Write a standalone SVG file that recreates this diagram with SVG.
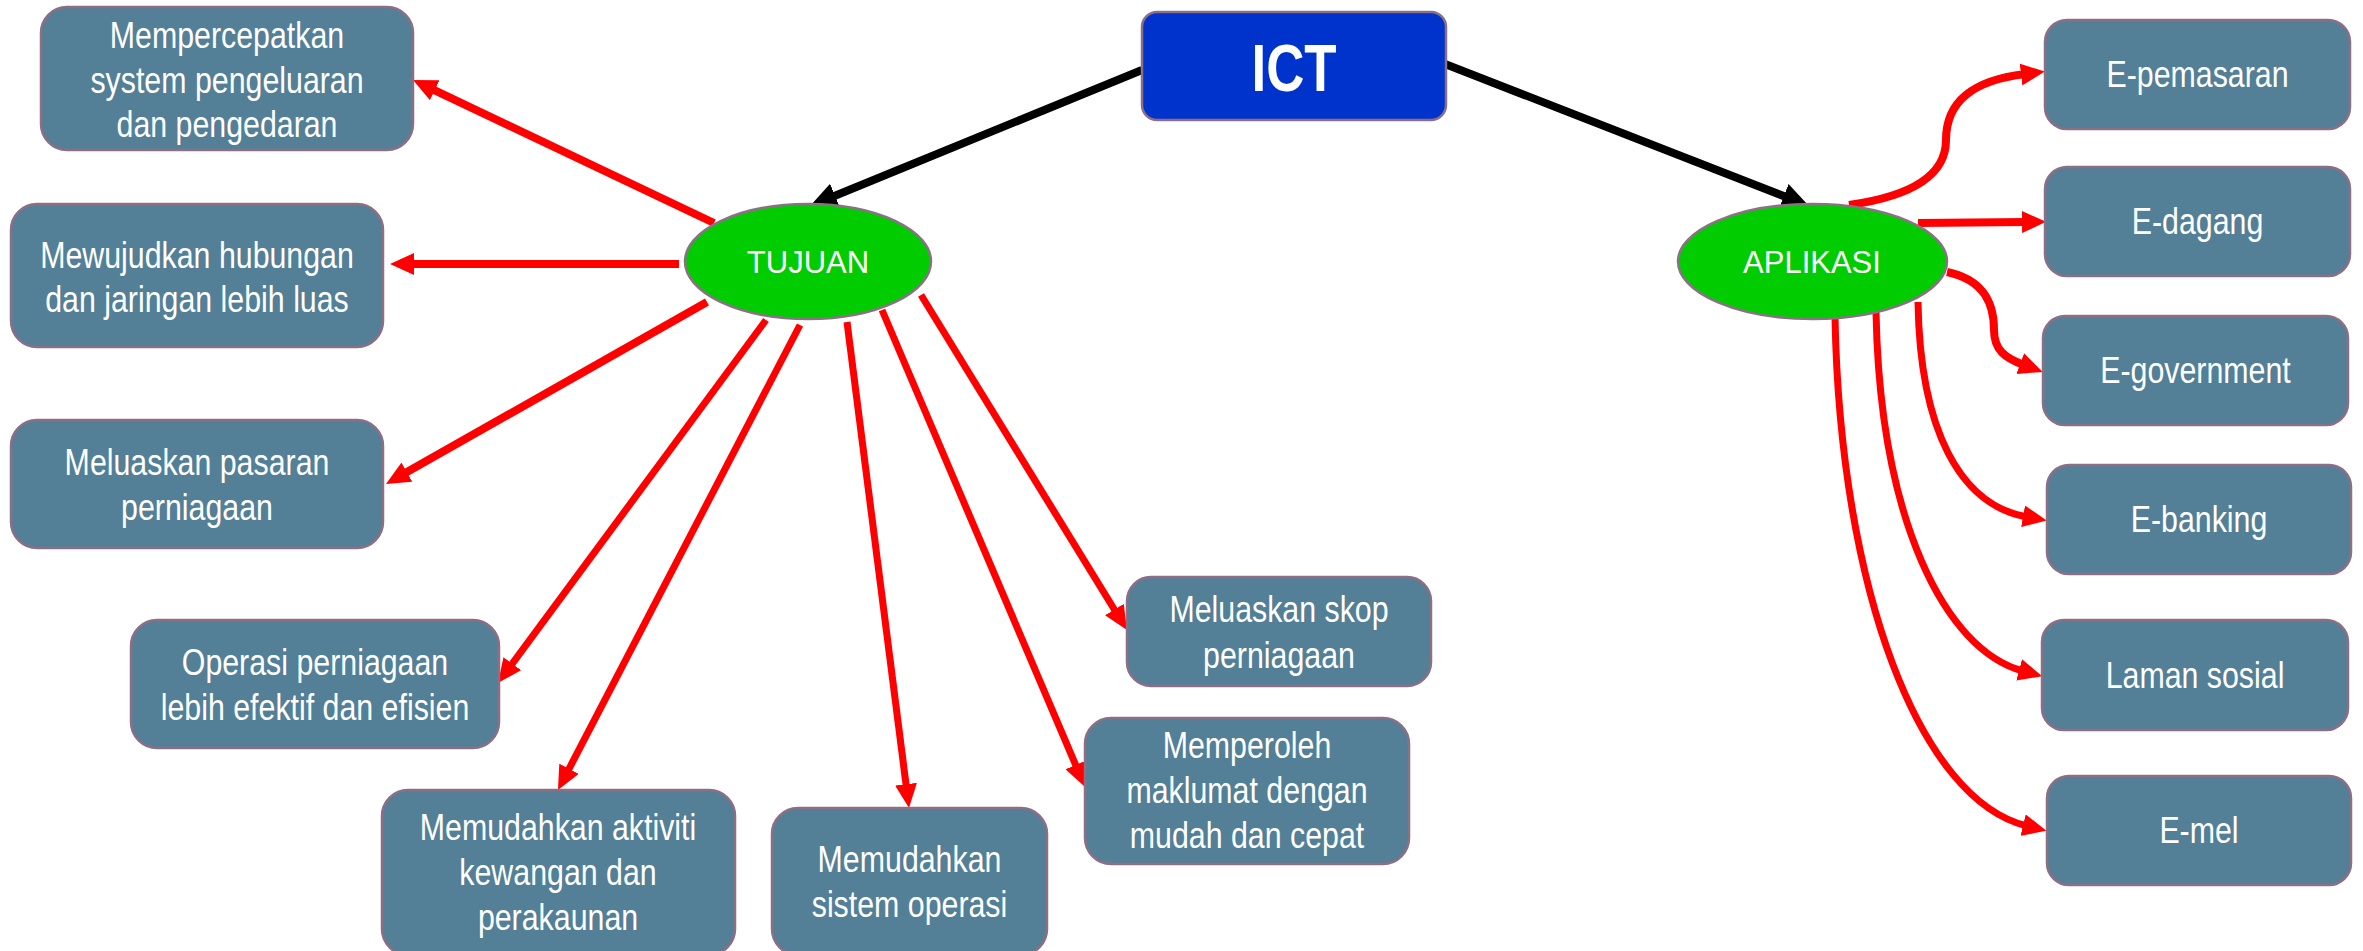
<svg xmlns="http://www.w3.org/2000/svg" width="2363" height="951" viewBox="0 0 2363 951">
<style>
.box{fill:#537F97;stroke:#8C6F85;stroke-width:2.5}
.ell{fill:#00CC00;stroke:#8C7085;stroke-width:2.5}
.t{font-family:"Liberation Sans Narrow","Arial Narrow","Liberation Sans",sans-serif;font-size:37px;fill:#FFFFFF;text-anchor:middle}
.et{font-family:"Liberation Sans",Arial,sans-serif;font-size:31px;fill:#FFFFFF;text-anchor:middle}
.ict{font-family:"Liberation Sans Narrow","Arial Narrow","Liberation Sans",sans-serif;font-size:66px;font-weight:bold;fill:#FFFFFF;text-anchor:middle}
.bk{fill:none;stroke:#000000;stroke-width:8}
.r8{fill:none;stroke:#FF0000;stroke-width:8}
.r6{fill:none;stroke:#FF0000;stroke-width:7}
</style>
<defs>
<marker id="ar" markerUnits="userSpaceOnUse" markerWidth="24" markerHeight="22" refX="4" refY="11" orient="auto" viewBox="0 0 24 22">
<path d="M0,0 L24,11 L0,22 z" fill="#FF0000"/>
</marker>
<marker id="ab" markerUnits="userSpaceOnUse" markerWidth="27" markerHeight="26" refX="6" refY="13" orient="auto" viewBox="0 0 27 26">
<path d="M0,0 L27,13 L0,26 z" fill="#000000"/>
</marker>
</defs>
<rect width="2363" height="951" fill="#FFFFFF"/>
<g id="connectors">
<path class="bk" d="M1142,70 L829.5,198" marker-end="url(#ab)"/>
<path class="bk" d="M1445,64 L1789.4,198.3" marker-end="url(#ab)"/>
<path class="r8" d="M714,223 L431.1,88.6" marker-end="url(#ar)"/>
<path class="r8" d="M679,264 L410,264" marker-end="url(#ar)"/>
<path class="r8" d="M707,302 L403.4,474.1" marker-end="url(#ar)"/>
<path class="r6" d="M766,320 L509.9,666.9" marker-end="url(#ar)"/>
<path class="r6" d="M800,325 L567.2,772.3" marker-end="url(#ar)"/>
<path class="r6" d="M847,322 L906.5,788.2" marker-end="url(#ar)"/>
<path class="r6" d="M882,310 L1077.2,768.6" marker-end="url(#ar)"/>
<path class="r6" d="M921,295 L1116.5,613" marker-end="url(#ar)"/>
<path class="r8" d="M1849,205 C1920,195 1946,170 1946,140 C1946,100 1975,80 2025,74" marker-end="url(#ar)"/>
<path class="r8" d="M1918,223 L2026,222" marker-end="url(#ar)"/>
<path class="r8" d="M1947,272 C1985,280 1994,305 1994,330 C1994,350 2005,358 2024,365" marker-end="url(#ar)"/>
<path class="r6" d="M1918,302 C1920,430 1960,505 2027,517" marker-end="url(#ar)"/>
<path class="r6" d="M1876,312 C1880,520 1945,650 2023,671" marker-end="url(#ar)"/>
<path class="r6" d="M1835,317 C1840,590 1920,800 2027,826" marker-end="url(#ar)"/>
</g>
<g id="ict">
<rect x="1142" y="12" width="304" height="108" rx="15" ry="15" fill="#0033CC" stroke="#8C6F85" stroke-width="2.5"/>
<g transform="translate(1294,0) scale(0.8,1)"><text class="ict" x="0" y="91">ICT</text></g>
</g>
<g id="tujuan">
<ellipse class="ell" cx="808" cy="261.5" rx="123" ry="57.5"/>
<text class="et" x="808" y="273">TUJUAN</text>
</g>
<g id="aplikasi">
<ellipse class="ell" cx="1812.5" cy="261.5" rx="134.5" ry="57.5"/>
<text class="et" x="1812" y="273">APLIKASI</text>
</g>
<g id="t1">
<rect class="box" x="41" y="7" width="372" height="143" rx="26"/>
<g transform="translate(227,0) scale(0.82,1)">
<text class="t" x="0" y="48">Mempercepatkan</text>
<text class="t" x="0" y="93">system pengeluaran</text>
<text class="t" x="0" y="137.5">dan pengedaran</text>
</g>
</g>
<g id="t2">
<rect class="box" x="11" y="204" width="372" height="143" rx="26"/>
<g transform="translate(197,0) scale(0.82,1)">
<text class="t" x="0" y="268">Mewujudkan hubungan</text>
<text class="t" x="0" y="312.5">dan jaringan lebih luas</text>
</g>
</g>
<g id="t3">
<rect class="box" x="11" y="420" width="372" height="128" rx="26"/>
<g transform="translate(197,0) scale(0.82,1)">
<text class="t" x="0" y="475">Meluaskan pasaran</text>
<text class="t" x="0" y="520">perniagaan</text>
</g>
</g>
<g id="t4">
<rect class="box" x="131" y="620" width="368" height="128" rx="26"/>
<g transform="translate(315,0) scale(0.82,1)">
<text class="t" x="0" y="675">Operasi perniagaan</text>
<text class="t" x="0" y="720">lebih efektif dan efisien</text>
</g>
</g>
<g id="t5">
<rect class="box" x="382" y="790" width="353" height="165" rx="26"/>
<g transform="translate(558,0) scale(0.82,1)">
<text class="t" x="0" y="840">Memudahkan aktiviti</text>
<text class="t" x="0" y="885">kewangan dan</text>
<text class="t" x="0" y="930">perakaunan</text>
</g>
</g>
<g id="t6">
<rect class="box" x="772" y="808" width="275" height="147" rx="26"/>
<g transform="translate(909.5,0) scale(0.82,1)">
<text class="t" x="0" y="872">Memudahkan</text>
<text class="t" x="0" y="917">sistem operasi</text>
</g>
</g>
<g id="t7">
<rect class="box" x="1085" y="718" width="324" height="146" rx="26"/>
<g transform="translate(1247,0) scale(0.82,1)">
<text class="t" x="0" y="758">Memperoleh</text>
<text class="t" x="0" y="803">maklumat dengan</text>
<text class="t" x="0" y="848">mudah dan cepat</text>
</g>
</g>
<g id="t8">
<rect class="box" x="1127" y="577" width="304" height="109" rx="24"/>
<g transform="translate(1279,0) scale(0.82,1)">
<text class="t" x="0" y="622">Meluaskan skop</text>
<text class="t" x="0" y="668">perniagaan</text>
</g>
</g>
<g id="a1">
<rect class="box" x="2045" y="20" width="305" height="109" rx="22"/>
<g transform="translate(2197.5,0) scale(0.82,1)"><text class="t" x="0" y="87.5">E-pemasaran</text></g>
</g>
<g id="a2">
<rect class="box" x="2045" y="167" width="305" height="109" rx="22"/>
<g transform="translate(2197.5,0) scale(0.82,1)"><text class="t" x="0" y="234.5">E-dagang</text></g>
</g>
<g id="a3">
<rect class="box" x="2043" y="316" width="305" height="109" rx="22"/>
<g transform="translate(2195.5,0) scale(0.82,1)"><text class="t" x="0" y="383.5">E-government</text></g>
</g>
<g id="a4">
<rect class="box" x="2047" y="465" width="304" height="109" rx="22"/>
<g transform="translate(2199,0) scale(0.82,1)"><text class="t" x="0" y="532.5">E-banking</text></g>
</g>
<g id="a5">
<rect class="box" x="2042" y="620" width="306" height="110" rx="22"/>
<g transform="translate(2195,0) scale(0.82,1)"><text class="t" x="0" y="688">Laman sosial</text></g>
</g>
<g id="a6">
<rect class="box" x="2047" y="776" width="304" height="109" rx="22"/>
<g transform="translate(2199,0) scale(0.82,1)"><text class="t" x="0" y="843.5">E-mel</text></g>
</g>
</svg>
